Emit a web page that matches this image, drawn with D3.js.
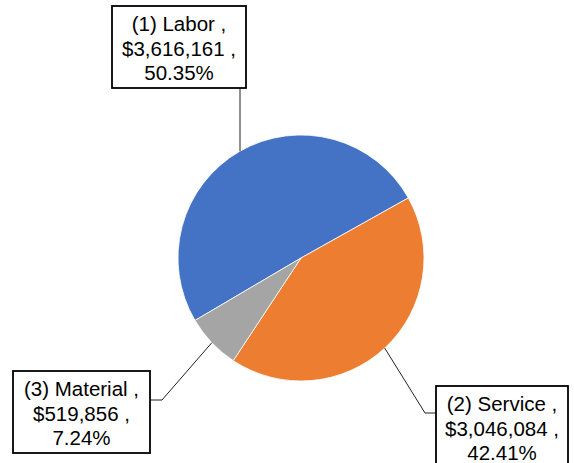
<!DOCTYPE html>
<html><head><meta charset="utf-8">
<script src="https://cdn.jsdelivr.net/npm/d3@7"></script>
<style>html,body{margin:0;padding:0;background:#fff;}svg{display:block;}</style>
</head><body>
<svg id="c" width="574" height="463"></svg>
<script>
const categories = ["(1) Labor", "(2) Service", "(3) Material"];
const values = [3616161, 3046084, 519856];
const colors = ["#4472C4", "#ED7D31", "#A5A5A5"];

const W = 574, H = 463;
const cx = 301, cy = 258, R = 123;
const startDeg = -120.5;
const svg = d3.select("#c");
const total = d3.sum(values);
const data = categories.map((c, i) => ({cat: c, value: values[i], color: colors[i]}));

const pie = d3.pie().value(d => d.value).sort(null)
  .startAngle(startDeg * Math.PI / 180)
  .endAngle(startDeg * Math.PI / 180 + 2 * Math.PI);
const arcs = pie(data);
const arc = d3.arc().innerRadius(0).outerRadius(R);
const g = svg.append("g").attr("transform", `translate(${cx},${cy})`);
g.selectAll("path").data(arcs).join("path")
  .attr("d", arc).attr("fill", d => d.data.color)
  .attr("stroke", "#fff").attr("stroke-width", 0.8);

const fmt = d3.format("$,");
const pct = v => (v / total * 100).toFixed(2) + "%";

// label box layout (x, y, w, h) and leader elbow
const boxes = [
  {x: 112, y: 6, w: 134, h: 82, anchor: [240, 88], elbow: null},
  {x: 436, y: 386, w: 132, h: 82, anchor: [436, 413], elbow: [425, 413]},
  {x: 13, y: 371, w: 137, h: 82, anchor: [150, 400], elbow: [162, 400]}
];

arcs.forEach((a, i) => {
  const b = boxes[i];
  const mid = (a.startAngle + a.endAngle) / 2;
  const px = cx + R * Math.sin(mid), py = cy - R * Math.cos(mid);
  const pts = [b.anchor];
  if (b.elbow) pts.push(b.elbow);
  pts.push([b.elbow ? px : b.anchor[0], py]);
  if (!b.elbow) pts[pts.length-1] = [b.anchor[0], cy - Math.sqrt(R*R - (b.anchor[0]-cx)**2)];
  svg.append("path").attr("d", d3.line()(pts))
    .attr("fill", "none").attr("stroke", "#222").attr("stroke-width", 1);
  svg.append("rect").attr("x", b.x).attr("y", b.y).attr("width", b.w).attr("height", b.h)
    .attr("fill", "#fff").attr("stroke", "#000").attr("stroke-width", 1.8);
  const lines = [a.data.cat + " ,", fmt(a.data.value) + " ,", pct(a.data.value)];
  const t = svg.append("text").attr("text-anchor", "middle")
    .attr("font-family", "Liberation Sans, Arial, sans-serif").attr("font-size", 20.5).attr("fill", "#000");
  lines.forEach((l, j) => t.append("tspan").attr("x", b.x + b.w / 2).attr("y", b.y + 25 + j * 24.5).text(l));
});
</script>
</body></html>
